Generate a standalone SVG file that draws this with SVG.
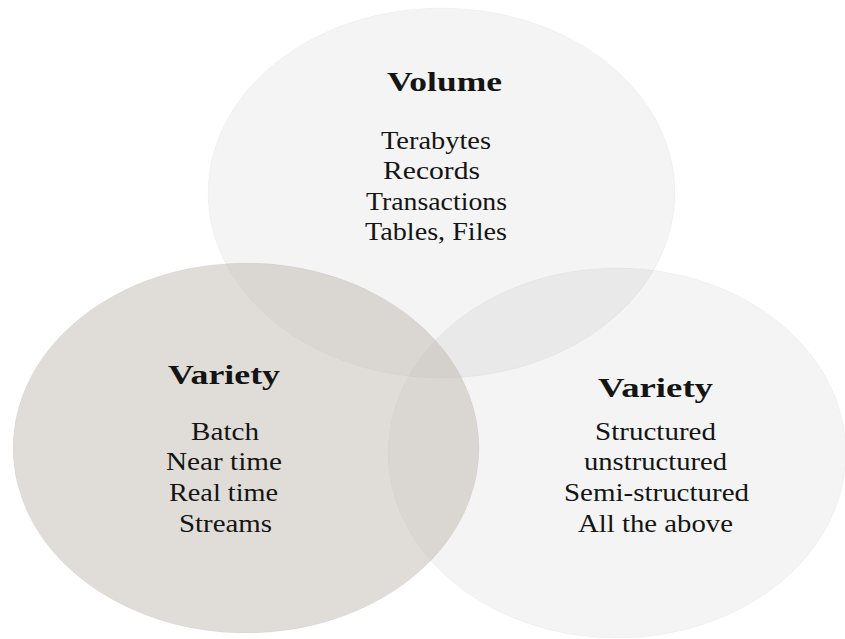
<svg xmlns="http://www.w3.org/2000/svg" width="845" height="639" viewBox="0 0 845 639">
  <style>
    .disc { stroke: #000; stroke-opacity: 0.03; stroke-width: 1; }
    .light { fill: #000; fill-opacity: 0.045; }
    .warm { fill: rgb(190,184,174); fill-opacity: 0.48; }
    .title { font-family: "Liberation Serif", "Times New Roman", serif; font-weight: bold; font-size: 28px; fill: #141414; }
    .item { font-family: "Liberation Serif", "Times New Roman", serif; font-size: 26px; fill: #141414; }
  </style>
  <rect width="845" height="639" fill="#ffffff"/>

  <!-- Volume circle (top) -->
  <g id="node-volume">
    <ellipse class="disc light" cx="441.5" cy="193" rx="233.5" ry="185"/>
  </g>

  <!-- Variety circle (right) -->
  <g id="node-variety">
    <ellipse class="disc light" cx="617" cy="453" rx="229" ry="185"/>
  </g>

  <!-- Speed circle (left), drawn translucent over the other two -->
  <g id="node-velocity">
    <ellipse class="disc warm" cx="246" cy="448" rx="233" ry="185"/>
  </g>

  <g id="connectors"></g>

  <!-- Labels -->
  <g id="label-volume">
    <text class="title" x="387" y="91" textLength="115" lengthAdjust="spacingAndGlyphs">Volume</text>
    <text class="item" x="381" y="149" textLength="110" lengthAdjust="spacingAndGlyphs">Terabytes</text>
    <text class="item" x="383" y="179" textLength="97" lengthAdjust="spacingAndGlyphs">Records</text>
    <text class="item" x="366" y="210" textLength="141" lengthAdjust="spacingAndGlyphs">Transactions</text>
    <text class="item" x="365" y="240" textLength="142" lengthAdjust="spacingAndGlyphs">Tables, Files</text>
  </g>

  <g id="label-velocity">
    <text class="title" x="168" y="384" textLength="112" lengthAdjust="spacingAndGlyphs">Variety</text>
    <text class="item" x="191" y="440" textLength="68" lengthAdjust="spacingAndGlyphs">Batch</text>
    <text class="item" x="166" y="470" textLength="116" lengthAdjust="spacingAndGlyphs">Near time</text>
    <text class="item" x="169" y="501" textLength="109" lengthAdjust="spacingAndGlyphs">Real time</text>
    <text class="item" x="179" y="532" textLength="93" lengthAdjust="spacingAndGlyphs">Streams</text>
  </g>

  <g id="label-variety">
    <text class="title" x="598" y="397" textLength="115" lengthAdjust="spacingAndGlyphs">Variety</text>
    <text class="item" x="595" y="440" textLength="121" lengthAdjust="spacingAndGlyphs">Structured</text>
    <text class="item" x="584" y="470" textLength="143" lengthAdjust="spacingAndGlyphs">unstructured</text>
    <text class="item" x="564" y="501" textLength="185" lengthAdjust="spacingAndGlyphs">Semi-structured</text>
    <text class="item" x="578" y="532" textLength="155" lengthAdjust="spacingAndGlyphs">All the above</text>
  </g>
</svg>
